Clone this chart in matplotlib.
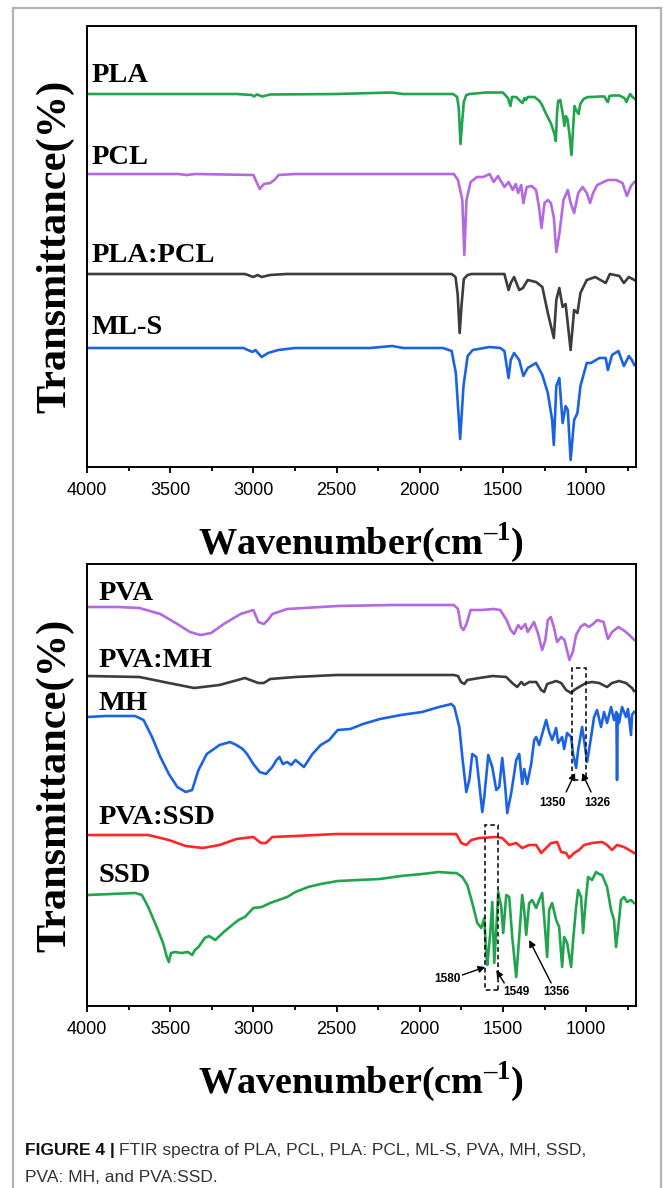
import numpy as np
import matplotlib.pyplot as plt
from matplotlib.lines import Line2D
from matplotlib.patches import Rectangle
from matplotlib.ticker import MultipleLocator

plt.rcParams['mathtext.fontset'] = 'custom'
plt.rcParams['mathtext.rm'] = 'Liberation Serif'
plt.rcParams['mathtext.bf'] = 'Liberation Serif:bold'

#_Data__________________________________________________________________________
# Wavenumbers (cm-1) and transmittance relative to each trace's baseline (a.u.)

pla_wn = [4000, 3100, 3010, 2995, 2980, 2945, 2900, 2500, 2170, 2100,
          1800, 1775, 1765, 1755, 1745, 1735, 1720, 1700, 1600, 1500,
          1470, 1455, 1445, 1420, 1390, 1382, 1370, 1362, 1350, 1310,
          1280, 1265, 1240, 1210, 1190, 1182, 1175, 1168, 1155, 1142,
          1130, 1122, 1112, 1100, 1088, 1080, 1070, 1060, 1045, 1035,
          1015, 990, 960, 920, 890, 875, 868, 860, 840, 800,
          770, 757, 748, 735, 722, 705]
pla_t = [0, 0, -1, -2.5, -0.5, -2.5, -0.5, 0, 1.5, 0,
         0, -3, -15, -50, -28, -8, -1, 0, 1.5, 1.5,
         -4, -12, -3, -3, -8, -9, -4, -6, -3, -3,
         -7, -11, -20, -30, -40, -47, -20, -7, -6, -18,
         -32, -22, -25, -40, -61, -40, -12, -16, -20, -10,
         -5, -3, -3, -2.5, -2.5, -7, -8, -2, -1.5, -1.5,
         -4, -8, -4, 0, -3, -5]

pcl_wn = [4000, 3450, 3400, 3350, 3000, 2962, 2937, 2899, 2874, 2848,
          2750, 1795, 1770, 1744, 1732, 1719, 1694, 1656, 1618, 1580,
          1555, 1530, 1491, 1466, 1441, 1423, 1408, 1390, 1377, 1357,
          1327, 1301, 1283, 1268, 1250, 1230, 1212, 1194, 1179, 1161,
          1136, 1110, 1093, 1072, 1047, 1021, 996, 976, 958, 933,
          895, 869, 819, 781, 755, 730, 710]
pcl_t = [0, 0, -1, 0, -1, -15, -10, -9, -6, -1,
         0, 0, -6, -26, -81, -26, -8, -3, -3, 0,
         -8, -2, -13, -8, -16, -10, -19, -11, -29, -13,
         -12, -16, -33, -54, -29, -26, -29, -43, -78, -60,
         -26, -16, -29, -39, -19, -13, -19, -29, -19, -11,
         -8, -6, -6, -9, -22, -12, -8]

blend_wn = [4000, 3050, 3000, 2975, 2950, 2900, 2800, 1808, 1785, 1772,
            1760, 1748, 1735, 1712, 1690, 1491, 1466, 1453, 1433, 1402,
            1380, 1351, 1301, 1263, 1230, 1194, 1179, 1161, 1141, 1123,
            1093, 1072, 1052, 1034, 996, 945, 882, 857, 800, 773,
            743, 710]
blend_t = [0, 0, -3, -1, -3, -1, 0, 0, -3, -20,
           -59, -30, -5, -1, 0, 0, -16, -9, -3, -16,
           -14, -6, -8, -13, -39, -64, -26, -14, -33, -30,
           -76, -36, -39, -19, -6, -3, -9, 0, -2, -9,
           -3, -6]

mls_wn = [4000, 3060, 3005, 2988, 2950, 2912, 2850, 2750, 2300, 2165,
          2100, 1860, 1808, 1783, 1757, 1737, 1712, 1681, 1580, 1516,
          1491, 1466, 1453, 1433, 1402, 1377, 1351, 1301, 1263, 1230,
          1204, 1194, 1179, 1161, 1141, 1123, 1110, 1093, 1072, 1052,
          1034, 996, 971, 920, 882, 869, 844, 806, 773, 743,
          725, 710]
mls_t = [0, 0, -4, -2, -9, -5, -2, 0, 0, 2,
         0, 0, -3, -25, -91, -38, -8, -2, 1, 0,
         -3, -30, -12, -5, -12, -28, -20, -15, -27, -45,
         -72, -97, -38, -30, -75, -58, -62, -112, -72, -65,
         -38, -15, -15, -10, -10, -22, -7, -3, -18, -8,
         -12, -17]

pva_wn = [4000, 3812, 3685, 3559, 3457, 3381, 3318, 3254, 3178, 3077,
          3000, 2970, 2937, 2912, 2886, 2797, 2493, 2163, 1795, 1770,
          1752, 1737, 1719, 1694, 1630, 1554, 1516, 1478, 1453, 1433,
          1408, 1390, 1365, 1351, 1331, 1313, 1288, 1264, 1245, 1230,
          1212, 1194, 1174, 1150, 1130, 1100, 1080, 1060, 1034, 1009,
          984, 958, 933, 895, 869, 844, 806, 768, 740, 710]
pva_t = [0, 0, -1, -7, -17, -25, -28, -26, -17, -7,
         -3, -15, -17, -13, -7, -2, 1, 2, 2, -2,
         -20, -23, -17, -3, -3, -2, -3, -13, -23, -27,
         -18, -22, -17, -25, -20, -15, -27, -43, -33, -13,
         -10, -20, -35, -30, -33, -53, -45, -28, -20, -17,
         -20, -17, -13, -15, -32, -25, -20, -24, -28, -33]

pvamh_wn = [4000, 3685, 3508, 3356, 3203, 3051, 2970, 2937, 2899, 2747,
            2500, 1795, 1770, 1752, 1732, 1714, 1642, 1562, 1480, 1444,
            1414, 1390, 1372, 1342, 1300, 1270, 1252, 1234, 1180, 1150,
            1120, 1090, 1072, 1042, 1000, 964, 922, 874, 844, 802,
            760, 724, 712]
pvamh_t = [0, -1, -7, -12, -9, -2, -7, -7, -3, -1,
           1, 1, 0, -6, -8, -4, -2, 0, -1, -7,
           -11, -6, -9, -6, -6, -14, -16, -8, -5, -7,
           -14, -17, -14, -11, -7, -6, -7, -11, -7, -5,
           -7, -12, -15]

mh_wn = [4000, 3888, 3711, 3660, 3609, 3559, 3508, 3457, 3407, 3368,
         3330, 3280, 3203, 3140, 3102, 3064, 3038, 3000, 2962, 2924,
         2886, 2861, 2843, 2823, 2797, 2772, 2747, 2696, 2645, 2595,
         2544, 2493, 2417, 2341, 2239, 2113, 1986, 1884, 1833, 1810,
         1792, 1762, 1744, 1720, 1702, 1684, 1660, 1642, 1624, 1612,
         1588, 1564, 1540, 1522, 1504, 1486, 1474, 1450, 1420, 1402,
         1384, 1372, 1354, 1330, 1312, 1300, 1282, 1264, 1240, 1222,
         1204, 1180, 1168, 1144, 1132, 1114, 1090, 1078, 1060, 1048,
         1024, 1012, 994, 970, 952, 934, 910, 892, 874, 850,
         832, 818, 814, 810, 802, 784, 760, 748, 730, 724,
         712]
mh_t = [0, 1, 1, -3, -20, -40, -57, -70, -75, -73,
        -53, -37, -28, -25, -28, -32, -37, -47, -55, -57,
        -50, -43, -40, -47, -45, -48, -43, -50, -37, -28,
        -23, -13, -12, -7, -2, 2, 5, 10, 12, 13,
        10, -10, -40, -75, -63, -37, -40, -67, -95, -80,
        -38, -50, -73, -70, -41, -70, -96, -76, -43, -37,
        -67, -52, -67, -47, -23, -20, -28, -17, -3, -15,
        -23, -11, -26, -20, -32, -16, -20, -37, -51, -33,
        -10, -23, -45, -20, 0, 7, -10, 5, -6, 10,
        -3, 5, -63, 3, -6, 10, 0, 8, -18, 2,
        5]

pvassd_wn = [4000, 3632, 3508, 3407, 3305, 3203, 3102, 3000, 2955, 2924,
             2886, 2747, 2500, 1780, 1750, 1720, 1690, 1642, 1540, 1504,
             1462, 1420, 1384, 1342, 1300, 1270, 1240, 1210, 1174, 1150,
             1120, 1102, 1072, 1042, 1012, 964, 904, 874, 844, 814,
             772, 730, 712]
pvassd_t = [0, 0, -5, -11, -13, -10, -4, -2, -8, -8,
            -2, -1, 1, 1, -8, -10, -5, -3, -2, -3,
            -10, -8, -13, -10, -10, -18, -13, -8, -7, -17,
            -18, -23, -18, -15, -10, -8, -7, -10, -15, -10,
            -12, -16, -18]

ssd_wn = [4000, 3711, 3670, 3632, 3581, 3543, 3520, 3508, 3495, 3470,
          3432, 3394, 3368, 3351, 3330, 3292, 3267, 3229, 3178, 3127,
          3089, 3051, 3000, 2950, 2899, 2848, 2797, 2747, 2671, 2595,
          2493, 2366, 2239, 2113, 1986, 1884, 1808, 1780, 1744, 1714,
          1684, 1654, 1630, 1612, 1600, 1594, 1576, 1564, 1552, 1540,
          1528, 1510, 1498, 1480, 1462, 1444, 1420, 1402, 1384, 1372,
          1360, 1342, 1324, 1300, 1282, 1264, 1246, 1234, 1222, 1204,
          1180, 1162, 1144, 1132, 1114, 1090, 1078, 1060, 1048, 1030,
          1018, 1000, 988, 964, 940, 922, 904, 874, 850, 832,
          820, 808, 790, 772, 754, 730, 712]
ssd_t = [0, 2, 0, -12, -32, -48, -62, -67, -58, -57,
         -58, -57, -60, -55, -52, -43, -41, -45, -37, -30,
         -25, -22, -13, -12, -8, -5, -2, 3, 8, 11,
         14, 15, 16, 19, 21, 23, 22, 22, 18, 10,
         -8, -28, -33, -23, -58, -70, -38, -7, -68, -35,
         3, -12, -38, 0, -2, -42, -82, -42, 0, -15,
         -40, -8, -5, -13, -5, 2, -35, -62, -15, -8,
         -25, -32, -72, -42, -48, -72, -45, -12, 5, -2,
         -38, -2, 18, 15, 23, 21, 20, 8, -15, -25,
         -52, -35, -5, -2, -7, -5, -8]

# Marked bands (cm-1) and their labels in the lower panel
mh_box = (1000, 1084)
ssd_box = (1528, 1606)
band_labels = ['1350', '1326', '1580', '1549', '1356']

#_Style_________________________________________________________________________
green, purple, grey = '#22a34e', '#b468e2', '#3c3c3c'
blue, red = '#1b63e2', '#ff2626'
serif_bold = dict(family='Liberation Serif', weight='bold')
line_kw = dict(lw=1.9, solid_joinstyle='round')

# (name, wn, t, colour, baseline offset, label height) for each panel
top_traces = [('PLA', pla_wn, pla_t, green, 373, 392),
              ('PCL', pcl_wn, pcl_t, purple, 293, 310),
              ('PLA:PCL', blend_wn, blend_t, grey, 193, 212),
              ('ML-S', mls_wn, mls_t, blue, 119, 140)]
bot_traces = [('PVA', pva_wn, pva_t, purple, 399, 412),
              ('PVA:MH', pvamh_wn, pvamh_t, grey, 330, 345),
              ('MH', mh_wn, mh_t, blue, 289, 302),
              ('PVA:SSD', pvassd_wn, pvassd_t, red, 171, 188),
              ('SSD', ssd_wn, ssd_t, green, 111, 130)]

fig = plt.figure(figsize=(6.63, 11.88), dpi=100)


def spectra_panel(rect, traces, height, label_wn, label_size):
    ax = fig.add_axes(rect)
    for name, wn, t, colour, off, ly in traces:
        ax.plot(wn, np.array(t) + off, color=colour, **line_kw)
        ax.text(label_wn, ly, name, fontsize=label_size, va='center',
                ha='left', **serif_bold)
    ax.set_xlim(4000, 700)
    ax.set_ylim(0, height)
    ax.xaxis.set_major_locator(MultipleLocator(500))
    ax.xaxis.set_minor_locator(MultipleLocator(250))
    ax.set_xticks(range(4000, 999, -500))
    ax.set_yticks([])
    ax.tick_params(axis='x', which='major', direction='out', length=4,
                   width=1.3, pad=7, labelsize=13)
    ax.tick_params(axis='x', which='minor', direction='out', length=3,
                   width=1.3)
    for lab in ax.get_xticklabels():
        lab.set_family('Liberation Sans')
    for sp in ax.spines.values():
        sp.set_linewidth(1.4)
    ax.set_xlabel('Wavenumber(cm$^{\\mathbf{\u20131}}$)', fontsize=27.5,
                  va='center', **serif_bold)
    ax.xaxis.set_label_coords(0.5, -0.172)
    ax.set_ylabel('Transmittance(%)', fontsize=30.5, va='center',
                  **serif_bold)
    ax.yaxis.set_label_coords(-0.058, 0.5)
    return ax


ax_top = spectra_panel([87/663, 1 - 467/1188, 549/663, 441/1188],
                       top_traces, 441, 3970, 20.5)
ax_bot = spectra_panel([87/663, 1 - 1006/1188, 549/663, 442/1188],
                       bot_traces, 442, 3928, 20.5)

# Dashed boxes round the marked bands
for (lo, hi), (y0, y1) in [(mh_box, (226, 338)), (ssd_box, (16, 181))]:
    ax_bot.add_patch(Rectangle((lo, y0), hi - lo, y1 - y0, fill=False,
                               ls=(0, (3, 2)), lw=1.1, ec='k', zorder=5))

arrow_kw = dict(arrowstyle='-|>', color='k', lw=1.0, mutation_scale=10,
                shrinkA=0, shrinkB=0)
# (label, text position, arrow tail, arrow tip)
marks = [(band_labels[0], (1204, 203), (1120, 214), (1066, 233)),
         (band_labels[1], (934, 203), (970, 214), (1024, 233)),
         (band_labels[2], (1834, 27), (1744, 31), (1606, 39)),
         (band_labels[3], (1420, 14), (1492, 23), (1540, 36)),
         (band_labels[4], (1180, 14), (1210, 23), (1342, 66))]
for lab, txy, tail, tip in marks:
    ax_bot.annotate('', xy=tip, xytext=tail, arrowprops=arrow_kw)
    ax_bot.text(*txy, lab, fontsize=8.5, weight='bold',
                family='Liberation Sans', ha='center', va='center')

# Page frame
frame_kw = dict(color='#b4b4b4', lw=1.6, transform=fig.transFigure)
fig.add_artist(Line2D([13/663, 13/663], [-0.01, 1 - 8/1188], **frame_kw))
fig.add_artist(Line2D([13/663, 661/663], [1 - 8/1188, 1 - 8/1188],
                      **frame_kw))
fig.add_artist(Line2D([661/663, 661/663], [-0.01, 1 - 8/1188], **frame_kw))

# Caption
cap_font = ['Liberation Sans Narrow', 'Liberation Sans']
fig.canvas.draw()
head = fig.text(25/663, 1 - 1150/1188, 'FIGURE 4 |', fontsize=12.5,
                weight='bold', family=cap_font, va='center', color='#111111')
fig.canvas.draw()
bb = head.get_window_extent()
fig.text((bb.x1 + 4)/663, 1 - 1150/1188,
         'FTIR spectra of PLA, PCL, PLA: PCL, ML-S, PVA, MH, SSD,',
         fontsize=12.5, family=cap_font, va='center', color='#333333')
fig.text(25/663, 1 - 1177/1188, 'PVA: MH, and PVA:SSD.', fontsize=12.5,
         family=cap_font, va='center', color='#333333')

fig.savefig('out.png', dpi=100)
